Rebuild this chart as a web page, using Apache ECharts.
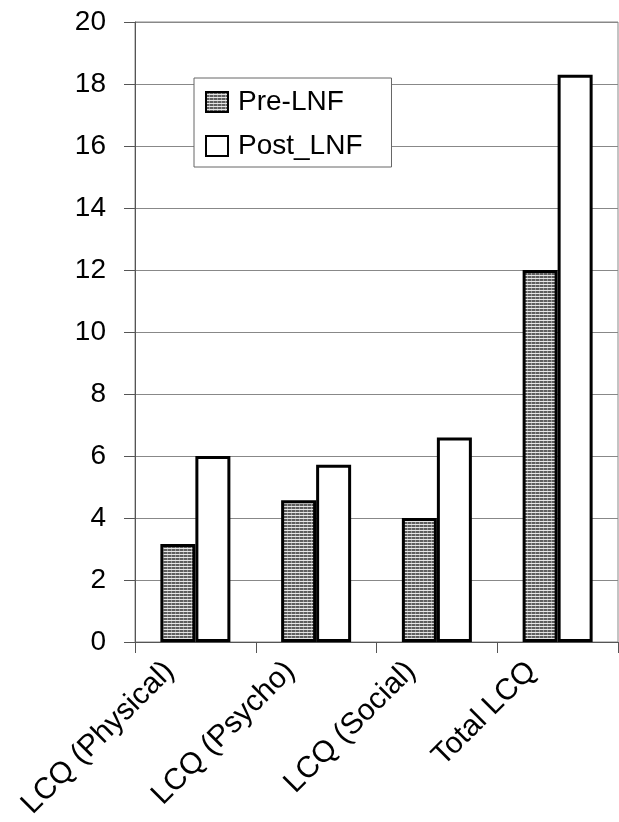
<!DOCTYPE html>
<html>
<head>
<meta charset="utf-8">
<script src="https://cdn.jsdelivr.net/npm/echarts@6/dist/echarts.min.js"></script>
<style>
html,body{margin:0;padding:0;background:#fff;}
#chart{width:619px;height:822px;}
</style>
</head>
<body>
<div id="chart"></div>
<script>
var categories = ['LCQ (Physical)', 'LCQ (Psycho)', 'LCQ (Social)', 'Total LCQ'];
var preLNF = [3.16, 4.57, 4.0, 12.0];
var postLNF = [6.0, 5.72, 6.6, 18.3];
var seriesNames = ['Pre-LNF', 'Post_LNF'];
var yMin = 0, yMax = 20, yStep = 2;

function makePattern() {
  var c = document.createElement('canvas');
  c.width = 4; c.height = 3;
  var g = c.getContext('2d');
  g.fillStyle = '#5e5e5e';
  g.fillRect(0, 0, 4, 3);
  g.fillStyle = '#9a9a9a';
  g.fillRect(3, 0, 1, 3);
  g.fillStyle = '#e6e6e6';
  g.fillRect(0, 2, 4, 1);
  return { image: c, repeat: 'repeat' };
}
var pattern = makePattern();
var font = 'Liberation Sans';

var chart = echarts.init(document.getElementById('chart'), null, { renderer: 'canvas' });
chart.setOption({
  animation: false,
  backgroundColor: '#fff',
  legend: {
    orient: 'vertical',
    left: 194,
    top: 78,
    padding: [10, 29, 7, 11],
    itemGap: 16,
    itemWidth: 22,
    itemHeight: 20,
    backgroundColor: '#fff',
    borderColor: '#666',
    borderWidth: 1,
    borderRadius: 0,
    textStyle: { fontFamily: font, fontSize: 28, color: '#000', padding: [0, 0, 0, 5], lineHeight: 28 },
    data: [
      { name: seriesNames[0], icon: 'rect', itemStyle: { color: pattern, borderColor: '#000', borderWidth: 2 } },
      { name: seriesNames[1], icon: 'rect', itemStyle: { color: '#fff', borderColor: '#000', borderWidth: 2 } }
    ]
  },
  grid: [
    { left: 135, right: 1, top: 22, bottom: 180, show: true, borderColor: '#888', borderWidth: 1 },
    { left: 109, right: 27, top: 22, bottom: 180, show: false }
  ],
  xAxis: [
    {
      type: 'category', gridIndex: 0, data: categories,
      axisLine: { lineStyle: { color: '#555', width: 1 } },
      axisTick: { show: true, length: 11, alignWithLabel: false, lineStyle: { color: '#555' } },
      axisLabel: { show: false },
      splitLine: { show: false }
    },
    {
      type: 'category', gridIndex: 1, data: categories,
      axisLine: { show: false },
      axisTick: { show: false },
      axisLabel: { show: true, interval: 0, rotate: 45, margin: 38, fontFamily: font, fontSize: 30, color: '#000' },
      splitLine: { show: false }
    }
  ],
  yAxis: [
    {
      type: 'value', gridIndex: 0, min: yMin, max: yMax, interval: yStep,
      axisLine: { show: true, lineStyle: { color: '#555', width: 1 } },
      axisTick: { show: true, length: 11, lineStyle: { color: '#555' } },
      axisLabel: { margin: 29, fontFamily: font, fontSize: 28, color: '#000' },
      splitLine: { show: true, lineStyle: { color: '#888', width: 1 } }
    },
    { type: 'value', gridIndex: 1, show: false, min: yMin, max: yMax }
  ],
  series: [
    {
      name: seriesNames[0], type: 'bar', xAxisIndex: 0, yAxisIndex: 0,
      data: preLNF, barWidth: 35, barGap: '0%',
      itemStyle: { color: pattern, borderColor: '#000', borderWidth: 3 }
    },
    {
      name: seriesNames[1], type: 'bar', xAxisIndex: 0, yAxisIndex: 0,
      data: postLNF, barWidth: 35, barGap: '0%',
      itemStyle: { color: '#fff', borderColor: '#000', borderWidth: 3 }
    }
  ]
});
</script>
</body>
</html>
